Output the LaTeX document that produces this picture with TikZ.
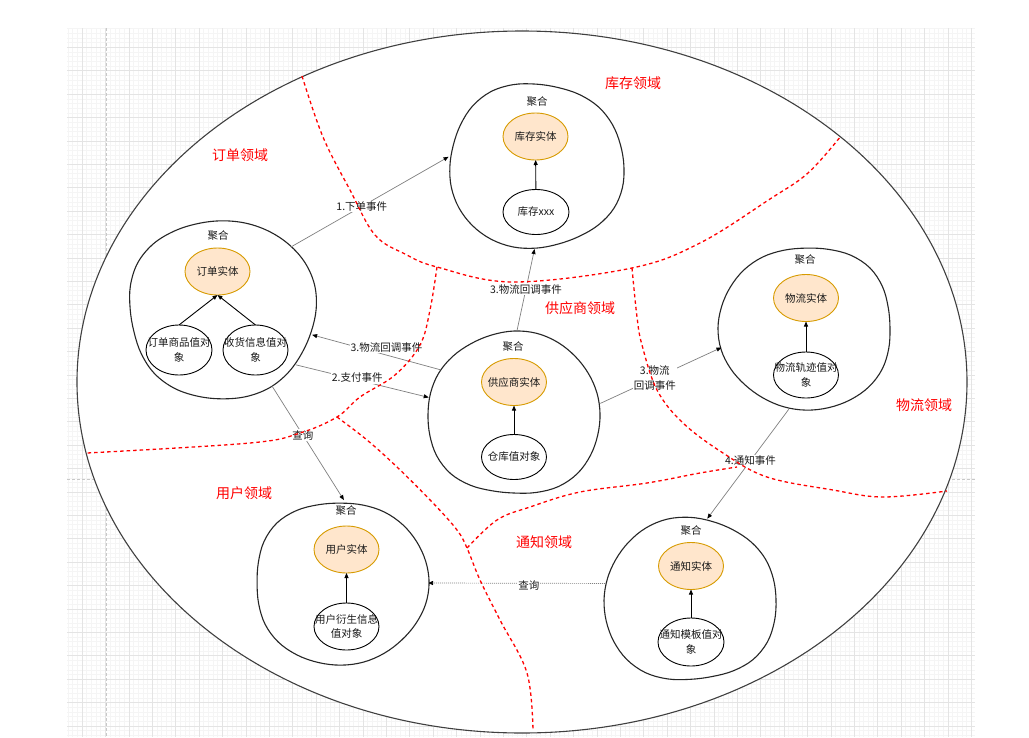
\documentclass[tikz,border=0pt]{standalone}
\usepackage{fontspec}
\setmainfont{Noto Sans CJK SC}
\usetikzlibrary{arrows.meta,shapes.geometric}
\definecolor{entfill}{HTML}{FFE6CC}
\definecolor{entline}{HTML}{D79B00}
\definecolor{gridminor}{HTML}{F5F5F5}
\definecolor{gridmajor}{HTML}{E4E4E4}
\definecolor{gridpage}{HTML}{C8C8C8}
\definecolor{connc}{HTML}{808080}
\definecolor{domred}{HTML}{FF0000}
\newcommand\lbfont{\fontsize{10.5}{14.5}\selectfont}
\newcommand\domfont{\fontsize{14}{16}\selectfont}
\newcommand\aggblob[5]{%
  \draw[blobline] plot[smooth cycle, tension=0.6, domain=0:345, samples=24, variable=\t]
   ({#1 + #3*cos(\t)*(1 + 0.012*(1-cos(4*\t)) + 0.018*sin(3*\t+#5) + 0.01*sin(5*\t+2*#5))},
    {#2 - #4*sin(\t)*(1 + 0.012*(1-cos(4*\t)) + 0.018*sin(3*\t+#5) + 0.01*sin(5*\t+2*#5))});
}
\tikzset{
 blobline/.style={draw=black!85, line width=1.1pt, line join=round},
 aggnode/.style={ellipse, draw=none, inner sep=0pt, outer sep=0pt},
 entity/.style={ellipse, draw=entline, fill=entfill, line width=0.9pt, inner sep=0pt, outer sep=0pt, minimum width=65pt, minimum height=47pt},
 valobj/.style={ellipse, draw=black, fill=white, line width=0.9pt, inner sep=0pt, outer sep=0pt, minimum width=65pt, minimum height=46pt},
 intext/.style={font=\lbfont, align=center, inner sep=0pt, text=black!90},
 aggtitle/.style={font=\lbfont, inner sep=0pt, text=black!90},
 domlabel/.style={text=domred, font=\domfont, inner sep=0pt},
 connarrow/.style={draw=connc, line width=0.7pt, -{Triangle[length=5pt,width=4pt,color=black]}},
 dotarrow/.style={connarrow, dash pattern=on 1pt off 1pt},
 innerarrow/.style={draw=black, line width=0.9pt, -{Triangle[length=5pt,width=4pt]}},
 elabel/.style={fill=white, inner sep=1pt, font=\lbfont, align=center, text=black!90},
 domline/.style={draw=domred, line width=1.3pt, dash pattern=on 3.5pt off 3pt},
}
\begin{document}
\begin{tikzpicture}[x=1pt,y=-1pt]
\useasboundingbox (0,0) rectangle (1029,737);
\fill[white] (0,0) rectangle (1029,737);
% grid background
\foreach \i in {0,...,193} \draw[gridminor, line width=0.5pt] ({67.96+4.68*\i},28) -- ({67.96+4.68*\i},737);
\foreach \j in {0,...,151} \draw[gridminor, line width=0.5pt] (67,{28.6+4.68*\j}) -- (975,{28.6+4.68*\j});
\foreach \i in {0,...,38} \draw[gridmajor, line width=0.6pt] ({82+23.4*\i},28) -- ({82+23.4*\i},737);
\foreach \j in {0,...,29} \draw[gridmajor, line width=0.6pt] (67,{47.3+23.4*\j}) -- (975,{47.3+23.4*\j});
\draw[gridpage, line width=0.6pt, dash pattern=on 3pt off 2pt] (106,28) -- (106,737);
\draw[gridpage, line width=0.6pt, dash pattern=on 3pt off 2pt] (67,479) -- (975,479);

% big context ellipse
\draw[fill=white, draw=black!75, line width=1.1pt] (522,382) ellipse [x radius=445, y radius=351];

% aggregates: sketch outlines
\aggblob{222}{309}{93}{89}{20}
\aggblob{536}{166}{87}{82}{110}
\aggblob{514}{414}{86}{81}{200}
\aggblob{806}{328}{86}{81}{290}
\aggblob{341}{583}{86}{81}{60}
\aggblob{690}{600}{86}{81}{150}

% aggregate anchor nodes
\node[aggnode, minimum width=188pt, minimum height=182pt] (ordAgg) at (222,309) {};
\node[aggnode, minimum width=176pt, minimum height=166pt] (invAgg) at (536,166) {};
\node[aggnode, minimum width=174pt, minimum height=166pt] (supAgg) at (514,414) {};
\node[aggnode, minimum width=174pt, minimum height=166pt] (logAgg) at (806,328) {};
\node[aggnode, minimum width=174pt, minimum height=166pt] (usrAgg) at (341,583) {};
\node[aggnode, minimum width=174pt, minimum height=166pt] (ntfAgg) at (690,600) {};

% titles
\node[aggtitle] (ordT) at (218,236) {聚合};
\node[aggtitle] (invT) at (537,102) {聚合};
\node[aggtitle] (supT) at (513,347) {聚合};
\node[aggtitle] (logT) at (805,260) {聚合};
\node[aggtitle] (usrT) at (346,511) {聚合};
\node[aggtitle] (ntfT) at (691,531) {聚合};

% entities
\node[entity] (ordE) at (217.5,271.5) {};
\node[entity] (invE) at (535.5,136.5) {};
\node[entity] (supE) at (514,382) {};
\node[entity] (logE) at (806,298) {};
\node[entity] (usrE) at (346.5,549.5) {};
\node[entity] (ntfE) at (691,566) {};
\node[intext] (ordEt) at (ordE) {订单实体};
\node[intext] (invEt) at (invE) {库存实体};
\node[intext] (supEt) at (supE) {供应商实体};
\node[intext] (logEt) at (logE) {物流实体};
\node[intext] (usrEt) at (usrE) {用户实体};
\node[intext] (ntfEt) at (ntfE) {通知实体};

% value objects
\node[valobj, minimum width=66pt, minimum height=50pt] (ordV1) at (179,350) {};
\node[valobj, minimum width=65pt, minimum height=50pt] (ordV2) at (255.5,350) {};
\node[valobj, minimum width=66pt, minimum height=45pt] (invV) at (536,212) {};
\node[valobj, minimum width=65pt, minimum height=45pt] (supV) at (514,457) {};
\node[valobj, minimum width=65pt, minimum height=46pt] (logV) at (806,375) {};
\node[valobj, minimum width=65pt, minimum height=47pt] (usrV) at (346.5,626.5) {};
\node[valobj, minimum width=66pt, minimum height=48pt] (ntfV) at (691,642) {};
\node[intext] (ordV1t) at (ordV1) {订单商品值对\\象};
\node[intext] (ordV2t) at (ordV2) {收货信息值对\\象};
\node[intext] (invVt) at (invV) {库存xxx};
\node[intext] (supVt) at (supV) {仓库值对象};
\node[intext] (logVt) at (logV) {物流轨迹值对\\象};
\node[intext] (usrVt) at (usrV) {用户衍生信息\\值对象};
\node[intext] (ntfVt) at (ntfV) {通知模板值对\\象};

% inner arrows
\draw[innerarrow] (ordV1.north) -- (ordE.south);
\draw[innerarrow] (ordV2.north) -- (ordE.south);
\draw[innerarrow] (invV) -- (invE);
\draw[innerarrow] (supV) -- (supE);
\draw[innerarrow] (logV) -- (logE);
\draw[innerarrow] (usrV) -- (usrE);
\draw[innerarrow] (ntfV) -- (ntfE);

% domain event connectors
\draw[connarrow] (ordAgg.42) -- node[elabel, pos=0.45] (l1) {1.下单事件} (invAgg.174);
\draw[connarrow] (supAgg.88) -- node[elabel, pos=0.51] (l2) {3.物流回调事件} (invAgg.-91);
\draw[connarrow] (supAgg.149) -- node[elabel, pos=0.42, yshift=8pt] (l3) {3.物流回调事件} (ordAgg.-16);
\draw[connarrow] (ordAgg.-37) -- node[elabel, pos=0.46, yshift=2pt] (l4) {2.支付事件} (supAgg.169);
\draw[connarrow] (supAgg.7) -- node[elabel, pos=0.45] (l5) {3.物流\\回调事件} (logAgg.193);
\draw[connarrow] (logAgg.258) -- node[elabel, pos=0.47] (l6) {4.通知事件} (ntfAgg.78);
\draw[connarrow] (ordAgg.-57) -- node[elabel, pos=0.43] (l7) {查询} (usrAgg.88);
\draw[dotarrow] (ntfAgg.169) -- node[elabel, pos=0.43, yshift=-2pt] (l8) {查询} (usrAgg.0);

% domain labels
\node[domlabel] (dOrd) at (240,155) {订单领域};
\node[domlabel] (dInv) at (633,83) {库存领域};
\node[domlabel] (dSup) at (580,308) {供应商领域};
\node[domlabel] (dLog) at (924,405) {物流领域};
\node[domlabel] (dUsr) at (244,493) {用户领域};
\node[domlabel] (dNtf) at (544,542) {通知领域};

% domain boundaries
\draw[domline] plot[smooth, tension=0.6] coordinates {(302,76) (323,137) (350,190) (375,235) (405,254) (437,267) (513,282) (632,268) (700,243) (770,199) (808,173) (841,136)};
\draw[domline] plot[smooth, tension=0.6] coordinates {(437,267) (430,310) (420,345) (395,375) (360,397) (337,417) (300,433) (250,443) (87,453)};
\draw[domline] plot[smooth, tension=0.6] coordinates {(337,417) (367,440) (397,467) (433,503) (457,530) (467,548) (480,580) (500,620) (527,673) (533,731)};
\draw[domline] plot[smooth, tension=0.6] coordinates {(467,548) (497,520) (530,507) (580,492) (647,483) (700,473) (737,467)};
\draw[domline] plot[smooth, tension=0.6] coordinates {(632,268) (637,317) (642,345) (657,390) (683,423) (723,453) (767,477) (833,490) (883,497) (947,491)};
\end{tikzpicture}
\end{document}
